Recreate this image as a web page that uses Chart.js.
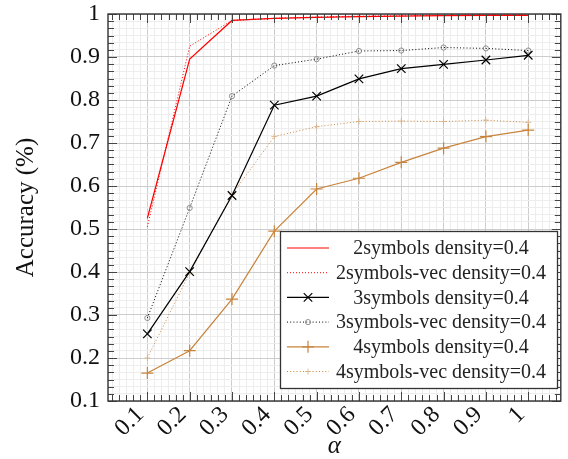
<!DOCTYPE html>
<html>
<head>
<meta charset="utf-8">
<script src="https://cdn.jsdelivr.net/npm/chart.js@4.4.1/dist/chart.umd.min.js"></script>
<style>
html, body { margin: 0; padding: 0; background: #fff; }
#wrap { width: 568px; height: 459px; }
</style>
</head>
<body>
<div id="wrap"><canvas id="c"></canvas></div>
<script>
var alphas = [0.1, 0.2, 0.3, 0.4, 0.5, 0.6, 0.7, 0.8, 0.9, 1.0];
var sym2 = [0.525, 0.895, 0.985, 0.990, 0.992, 0.994, 0.995, 0.996, 0.997, 0.997];
var sym2vec = [0.505, 0.925, 0.985, 0.990, 0.993, 0.995, 0.996, 0.997, 0.998, 0.998];
var sym3 = [0.256, 0.401, 0.578, 0.788, 0.809, 0.849, 0.873, 0.883, 0.893, 0.904];
var sym3vec = [0.293, 0.549, 0.809, 0.880, 0.895, 0.914, 0.915, 0.922, 0.920, 0.915];
var sym4 = [0.165, 0.217, 0.337, 0.495, 0.593, 0.618, 0.655, 0.688, 0.715, 0.730];
var sym4vec = [0.200, 0.398, 0.580, 0.715, 0.738, 0.750, 0.751, 0.750, 0.753, 0.748];
var majorLabels = ["0.1", "0.2", "0.3", "0.4", "0.5", "0.6", "0.7", "0.8", "0.9", "1"];

var FONT = "'Liberation Serif', 'Times New Roman', serif";
var ORANGE = "#c8843c";

function pts(ys) {
    return alphas.map((a, i) => ({x: a, y: ys[i]}));
}

// major every 0.1, five minor ticks in between
function tickList(lo, hi) {
    var out = [];
    for (var k = -12; k <= 66; k++) {
        var v = 0.1 + k / 60;
        if (v >= lo - 1e-9 && v <= hi + 1e-9) out.push(v);
    }
    return out;
}
function isMajor(v) {
    return Math.abs(v * 10 - Math.round(v * 10)) < 1e-6 && v > 0.05;
}
function label(v) {
    if (!isMajor(v)) return "";
    var i = Math.round(v * 10) - 1;
    return majorLabels[i] || "";
}

var frame = {
    id: "frame",
    afterDatasetsDraw(chart) {
        var ctx = chart.ctx, a = chart.chartArea;
        var xs = chart.scales.x, ys = chart.scales.y;
        ctx.save();
        ctx.strokeStyle = "#444";
        ctx.lineWidth = 1;
        xs.ticks.forEach(t => {
            var px = Math.round(xs.getPixelForValue(t.value)) + 0.5;
            var len = isMajor(t.value) ? 9 : 6;
            ctx.beginPath();
            ctx.moveTo(px, a.bottom); ctx.lineTo(px, a.bottom - len);
            ctx.moveTo(px, a.top); ctx.lineTo(px, a.top + len);
            ctx.stroke();
        });
        ys.ticks.forEach(t => {
            var py = Math.round(ys.getPixelForValue(t.value)) + 0.5;
            var len = isMajor(t.value) ? 9 : 6;
            ctx.beginPath();
            ctx.moveTo(a.left, py); ctx.lineTo(a.left + len, py);
            ctx.moveTo(a.right, py); ctx.lineTo(a.right - len, py);
            ctx.stroke();
        });
        ctx.strokeStyle = "#333";
        ctx.lineWidth = 1.4;
        ctx.strokeRect(a.left, a.top, a.right - a.left, a.bottom - a.top);

        // legend box
        var bx = 280.5, by = 231.5, bw = 277, bh = 157;
        ctx.fillStyle = "#fff";
        ctx.fillRect(bx, by, bw, bh);
        ctx.lineWidth = 1.3;
        ctx.strokeStyle = "#333";
        ctx.strokeRect(bx, by, bw, bh);
        ctx.font = "20px " + FONT;
        ctx.textAlign = "center";
        ctx.textBaseline = "middle";
        chart.data.datasets.forEach((ds, i) => {
            var y = 248 + i * 24.7;
            ctx.save();
            ctx.strokeStyle = ds.borderColor;
            ctx.lineWidth = ds.borderWidth;
            ctx.setLineDash(ds.borderDash || []);
            ctx.beginPath();
            ctx.moveTo(287, y); ctx.lineTo(329, y);
            ctx.stroke();
            ctx.restore();
            if (ds.pointRadius > 0) {
                ctx.save();
                ctx.strokeStyle = ds.pointBorderColor || ds.borderColor;
                ctx.fillStyle = ds.pointBackgroundColor || "transparent";
                ctx.lineWidth = ds.pointBorderWidth || 1;
                Chart.helpers.drawPoint(ctx, {pointStyle: ds.pointStyle, radius: ds.pointRadius, rotation: 0, borderWidth: ctx.lineWidth}, 308, y);
                ctx.restore();
            }
            ctx.fillStyle = "#222";
            ctx.fillText(ds.label, 441, y + 1);
        });
        ctx.restore();
    }
};

new Chart(document.getElementById("c"), {
    type: "line",
    data: {
        datasets: [
            {label: "2symbols density=0.4", data: pts(sym2), borderColor: "#ff0000", borderWidth: 1.2, pointRadius: 0},
            {label: "2symbols-vec density=0.4", data: pts(sym2vec), borderColor: "#ff0000", borderWidth: 1, borderDash: [1, 2], pointRadius: 0},
            {label: "3symbols density=0.4", data: pts(sym3), borderColor: "#000", borderWidth: 1.2,
                pointStyle: "crossRot", pointRadius: 6, pointBorderColor: "#000", pointBorderWidth: 1.2},
            {label: "3symbols-vec density=0.4", data: pts(sym3vec), borderColor: "#000", borderWidth: 1, borderDash: [1, 2.2],
                pointStyle: "circle", pointRadius: 2.6, pointBorderColor: "#777", pointBackgroundColor: "rgba(0,0,0,0)", pointBorderWidth: 0.8},
            {label: "4symbols density=0.4", data: pts(sym4), borderColor: ORANGE, borderWidth: 1.2,
                pointStyle: "cross", pointRadius: 6, pointBorderColor: ORANGE, pointBorderWidth: 1.2},
            {label: "4symbols-vec density=0.4", data: pts(sym4vec), borderColor: ORANGE, borderWidth: 1, borderDash: [1, 2.2],
                pointStyle: "cross", pointRadius: 3, pointBorderColor: "#dcae80", pointBorderWidth: 0.8}
        ]
    },
    options: {
        animation: false,
        responsive: true,
        maintainAspectRatio: false,
        layout: {padding: {top: 14, right: 0, left: 0, bottom: 0}},
        plugins: {
            legend: {display: false},
            tooltip: {enabled: false}
        },
        scales: {
            x: {
                type: "linear",
                min: 0.007,
                max: 1.077,
                afterBuildTicks: (s) => { s.ticks = tickList(s.min, s.max).map(v => ({value: v})); },
                afterFit: (s) => { s.height = 58; s.paddingLeft = 0; s.paddingRight = 0; },
                grid: {
                    drawTicks: false,
                    color: (c) => (c.tick && isMajor(c.tick.value)) ? "#cdcdcd" : "#ededed",
                    lineWidth: 1
                },
                border: {display: false},
                ticks: {
                    autoSkip: false,
                    minRotation: 45,
                    maxRotation: 45,
                    padding: 0,
                    labelOffset: -7,
                    color: "#111",
                    font: {family: FONT, size: 24},
                    callback: (v) => label(v)
                },
                title: {
                    display: true,
                    text: "α",
                    color: "#111",
                    font: {family: FONT, size: 25, style: "italic", lineHeight: 1},
                    padding: {top: 0, bottom: 0}
                }
            },
            y: {
                min: 0.1,
                max: 1.0,
                afterBuildTicks: (s) => { s.ticks = tickList(s.min, s.max).map(v => ({value: v})); },
                afterFit: (s) => { s.width = 108; s.paddingTop = 0; s.paddingBottom = 0; },
                grid: {
                    drawTicks: false,
                    color: (c) => (c.tick && isMajor(c.tick.value)) ? "#cdcdcd" : "#ededed",
                    lineWidth: 1
                },
                border: {display: false},
                ticks: {
                    autoSkip: false,
                    padding: 8,
                    color: "#111",
                    font: {family: FONT, size: 24},
                    callback: (v) => label(v)
                },
                title: {
                    display: true,
                    text: "Accuracy (%)",
                    color: "#111",
                    font: {family: FONT, size: 25, lineHeight: 1.2},
                    padding: {top: 11, bottom: 0}
                }
            }
        }
    },
    plugins: [frame]
});
</script>
</body>
</html>
